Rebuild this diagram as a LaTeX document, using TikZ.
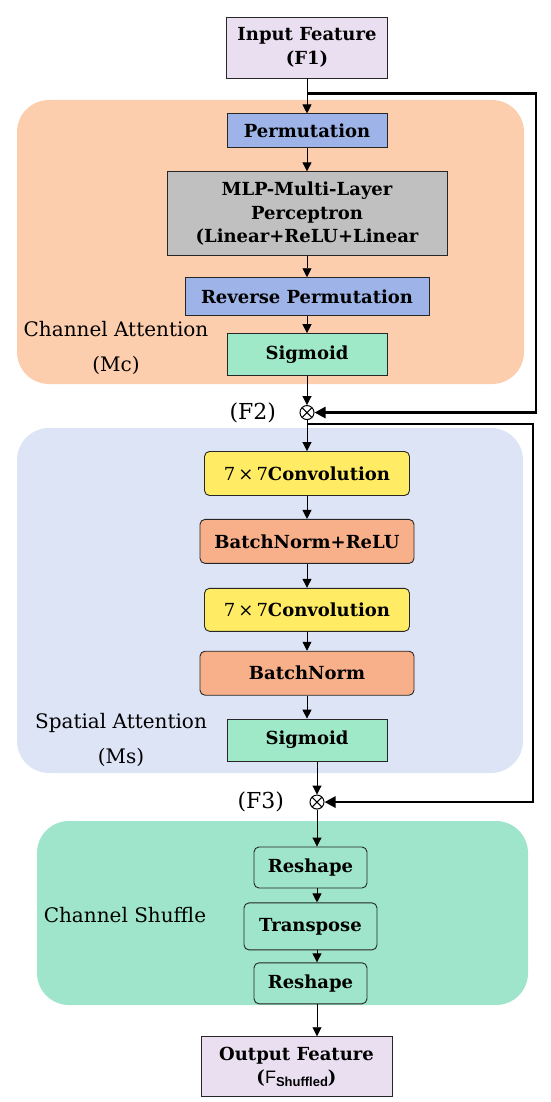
\documentclass[tikz,border=0pt]{standalone}
\usepackage{fontspec}
\setmainfont{DejaVu Serif}
\newfontfamily\subfont{Liberation Sans}
\usetikzlibrary{arrows.meta, positioning, calc}
\definecolor{featfill}{RGB}{233,223,241}
\definecolor{caback}{RGB}{252,206,174}
\definecolor{saback}{RGB}{221,228,245}
\definecolor{csback}{RGB}{158,229,203}
\definecolor{permfill}{RGB}{158,180,232}
\definecolor{mlpfill}{RGB}{192,192,192}
\definecolor{sigfill}{RGB}{159,232,200}
\definecolor{convfill}{RGB}{255,236,100}
\definecolor{bnfill}{RGB}{248,176,138}
\tikzset{
    box/.style={draw=black!85, line width=0.9pt, align=center, inner sep=0pt, font=\bfseries\fontsize{18}{23.5}\selectfont},
    rbox/.style={box, rounded corners=5pt},
    region/.style={rounded corners=32pt, inner sep=0pt},
    grouplbl/.style={align=center, font=\fontsize{20}{35}\selectfont},
    flbl/.style={font=\fontsize{22}{24}\selectfont},
    arrow/.style={-{Triangle[length=9pt, width=9pt]}, line width=0.9pt},
    skip/.style={-{Triangle[length=11pt, width=11pt]}, line width=2.6pt},
    mult/.style={circle, draw, line width=1pt, minimum size=14pt, inner sep=0pt,
        path picture={\draw[line width=1pt] (path picture bounding box.north west) -- (path picture bounding box.south east)
            (path picture bounding box.south west) -- (path picture bounding box.north east);}}
}
\begin{document}
\begin{tikzpicture}[x=1pt, y=1pt]
        \useasboundingbox (0,0) rectangle (550,-1102);
        % group backgrounds
        \node [region, fill=caback, minimum width=507pt, minimum height=284pt] (ca) at (270.5,-242) {};
        \node [region, fill=saback, minimum width=506pt, minimum height=345pt] (sa) at (270,-600.5) {};
        \node [region, fill=csback, minimum width=491pt, minimum height=184pt] (cs) at (282.5,-913) {};
        \node [grouplbl] (calbl) at (116,-347.5) {Channel Attention\\(Mc)};
        \node [grouplbl] (salbl) at (121,-740) {Spatial Attention\\(Ms)};
        \node [grouplbl] (cslbl) at (125,-915) {Channel Shuffle};
        % channel attention
        \node [box, fill=featfill, minimum width=161pt, minimum height=61pt] (inp) at (307,-47.5) {Input Feature\\(F1)};
        \node [box, fill=permfill, minimum width=160pt, minimum height=34pt, below=35pt of inp] (perm) {Permutation};
        \node [box, fill=mlpfill, minimum width=280pt, minimum height=84pt, below=23pt of perm] (mlp) {MLP-Multi-Layer\\Perceptron\\(Linear+ReLU+Linear};
        \node [box, fill=permfill, minimum width=244pt, minimum height=38pt, below=21pt of mlp] (rperm) {Reverse Permutation};
        \node [box, fill=sigfill, minimum width=160pt, minimum height=42pt, below=17pt of rperm] (sig1) {Sigmoid};
        \node [mult, below=29pt of sig1] (f2) {};
        \node [flbl, left=20pt of f2] (f2lbl) {(F2)};
        % spatial attention
        \node [rbox, fill=convfill, minimum width=205pt, minimum height=44pt, below=31pt of f2] (conv1) {{\mdseries 7\,×\,7}Convolution};
        \node [rbox, fill=bnfill, minimum width=214pt, minimum height=44pt, below=23pt of conv1] (bnr) {BatchNorm+ReLU};
        \node [rbox, fill=convfill, minimum width=205pt, minimum height=43pt, below=24pt of bnr] (conv2) {{\mdseries 7\,×\,7}Convolution};
        \node [rbox, fill=bnfill, minimum width=214pt, minimum height=44pt, below=19pt of conv2] (bn) {BatchNorm};
        \node [box, fill=sigfill, minimum width=160pt, minimum height=42pt, below=23pt of bn] (sig2) {Sigmoid};
        \node [mult, below=33pt of sig2, xshift=10pt] (f3) {};
        \node [flbl, left=22pt of f3] (f3lbl) {(F3)};
        % channel shuffle
        \node [rbox, minimum width=113pt, minimum height=41pt, below=37pt of f3, xshift=-6.5pt] (resh1) {Reshape};
        \node [rbox, minimum width=133pt, minimum height=47pt, below=14pt of resh1] (trans) {Transpose};
        \node [rbox, minimum width=113pt, minimum height=41pt, below=12pt of trans] (resh2) {Reshape};
        \node [box, fill=featfill, minimum width=191pt, minimum height=60pt, below=32pt of resh2, xshift=-14pt] (out) {Output Feature\\({\mdseries\subfont F}{\subfont\fontsize{13}{13}\selectfont\raisebox{-3pt}{Shuffled}})};
        % main flow
        \draw [arrow] (inp) -- (perm);
        \draw [arrow] (perm) -- (mlp);
        \draw [arrow] (mlp) -- (rperm);
        \draw [arrow] (rperm) -- (sig1);
        \draw [arrow] (sig1) -- (f2);
        \draw [arrow] (f2) -- (conv1);
        \draw [arrow] (conv1) -- (bnr);
        \draw [arrow] (bnr) -- (conv2);
        \draw [arrow] (conv2) -- (bn);
        \draw [arrow] (bn) -- (sig2);
        \draw [arrow] (f3 |- sig2.south) -- (f3);
        \draw [arrow] (f3) -- (f3 |- resh1.north);
        \draw [arrow] (f3 |- resh1.south) -- (f3 |- trans.north);
        \draw [arrow] (f3 |- trans.south) -- (f3 |- resh2.north);
        \draw [arrow] (f3 |- resh2.south) -- (f3 |- out.north);
        % skip connections
        \coordinate (sp1) at ($(inp.south)!0.43!(perm.north)$);
        \coordinate (sp2) at ($(f2.south)!0.13!(conv1.north)$);
        \draw [skip] (sp1) -- ++(229,0) |- (f2.east);
        \draw [skip] (sp2) -- ++(226,0) |- (f3.east);
    \end{tikzpicture}
\end{document}
